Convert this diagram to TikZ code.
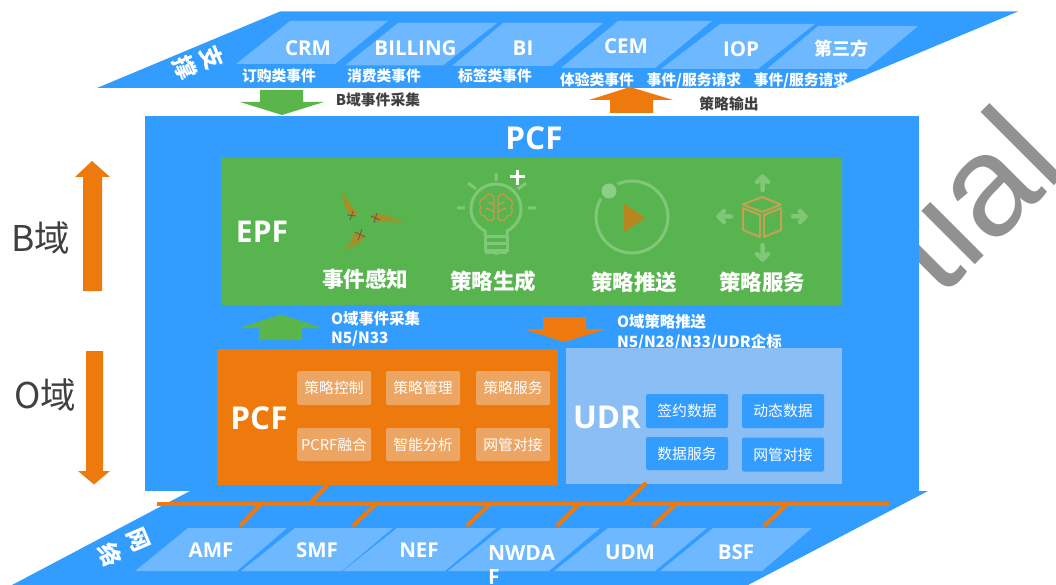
\documentclass[tikz,border=0pt]{standalone}
\usepackage{fontspec}
\setmainfont{Noto Sans CJK SC}
\newfontfamily\latn{Open Sans}
\newfontfamily\wm{Liberation Sans}
\usetikzlibrary{calc}
\definecolor{pblue}{HTML}{339CFF}
\definecolor{lblue}{HTML}{6DB8FF}
\definecolor{pgreen}{HTML}{58B44F}
\definecolor{agreen}{HTML}{5AB54B}
\definecolor{porange}{HTML}{EE790C}
\definecolor{lorange}{HTML}{EDA564}
\definecolor{udrblue}{HTML}{8ABEF4}
\definecolor{dtext}{HTML}{404040}
\definecolor{palegreen}{HTML}{80C878}
\definecolor{iconorange}{HTML}{B8861E}
\definecolor{boxgold}{HTML}{C3A254}
\definecolor{brainc}{HTML}{C49A50}
\tikzset{
  x=1pt,y=-1pt,
  every node/.style={inner sep=0pt,outer sep=0pt},
  para/.style={fill=lblue},
  plane/.style={fill=pblue},
  bigrect/.style={anchor=north west,inner sep=0pt},
  plabel/.style={text=white,font=\latn\fontsize{20.5}{24}\selectfont\bfseries},
  sublabel/.style={text=white,font=\fontsize{14.8}{14.8}\selectfont\bfseries},
  darklabel/.style={text=dtext,font=\fontsize{14.8}{14.8}\selectfont\bfseries},
  whitelabel/.style={text=white,anchor=west,font=\fontsize{15.4}{15.4}\selectfont\bfseries},
  titlelabel/.style={text=white,font=\latn\fontsize{31.5}{31.5}\selectfont\bfseries},
  epflabel/.style={text=white,font=\fontsize{21.5}{21.5}\selectfont\bfseries},
  pcfitem/.style={fill=lorange,rounded corners=1.5pt,text=white,minimum width=74pt,minimum height=34pt,font=\fontsize{14.8}{14.8}\selectfont},
  udritem/.style={fill=pblue,rounded corners=1.5pt,text=white,minimum width=82pt,minimum height=34pt,font=\fontsize{14.8}{14.8}\selectfont},
  domainlabel/.style={text=dtext,font=\fontsize{35.5}{35.5}\selectfont},
  vertglyph/.style={text=white,rotate=-67,font=\fontsize{23}{23}\selectfont\bfseries},
  busline/.style={draw=porange,line width=4pt},
  tap/.style={draw=porange,line width=4pt,line cap=round},
  paleline/.style={draw=palegreen,line width=3pt},
  palearrow/.style={draw=palegreen,line width=4.5pt,line cap=round,line join=round},
  brainline/.style={draw=brainc,line width=1.2pt},
  cubeline/.style={draw=boxgold,line width=2pt,line join=round},
  xmark/.style={draw=black!65,line width=.8pt},
}
\begin{document}
\begin{tikzpicture}
\useasboundingbox (0,0) rectangle (1056,585);
\begin{scope}
\clip (0,0) rectangle (1056,585);
% watermark
\node[rotate=45,anchor=base west,text=black!43,font=\wm\fontsize{143}{143}\selectfont] (wmark) at (940.7,299.3) {tial};

% top plane
\fill[plane] (97,88) -- (280,11.5) -- (1018,11.5) -- (835,88) -- cycle;
\fill[para] (236,64) -- (335,64) -- (388,21) -- (290,21) -- cycle;
\fill[para] (345,65.5) -- (443,65.5) -- (497,23) -- (398,23) -- cycle;
\fill[para] (452,66) -- (552,66) -- (603,23) -- (503,23) -- cycle;
\fill[para] (561,68) -- (655,68) -- (712,21) -- (618,21) -- cycle;
\fill[para] (661,69) -- (758,69) -- (815,24) -- (720,24) -- cycle;
\fill[para] (767,69) -- (867,69) -- (918,26) -- (818,26) -- cycle;
\node[plabel] (crm) at (308,48) {CRM};
\node[plabel] (billing) at (415.5,48) {BILLING};
\node[plabel] (bi) at (523,48) {BI};
\node[plabel] (cem) at (626,46.5) {CEM};
\node[plabel] (iop) at (741,49) {IOP};
\node[plabel,font=\fontsize{18}{18}\selectfont\bfseries] (third) at (841,49) {第三方};
\node[sublabel] (s1) at (279,76) {订购类事件};
\node[sublabel] (s2) at (384,76) {消费类事件};
\node[sublabel] (s3) at (495,76) {标签类事件};
\node[sublabel] (s4) at (597,80) {体验类事件};
\node[sublabel] (s5) at (694,80) {事件/服务请求};
\node[sublabel] (s6) at (801,80) {事件/服务请求};
\node[vertglyph] (zhi) at (212,58) {支};
\node[vertglyph] (cheng) at (185,68) {撑};

% B-domain arrows
\fill[agreen] (260,90) -- (303,90) -- (303,102) -- (324,102) -- (282,115) -- (240,102) -- (260,102) -- cycle;
\node[darklabel] (bcollect) at (378,100) {B域事件采集};
\fill[porange] (610,113) -- (653,113) -- (653,100) -- (673,100) -- (630,87) -- (589,100) -- (610,100) -- cycle;
\node[darklabel] (pout) at (729,104) {策略输出};

% left arrows
\fill[porange] (83,291) -- (102,291) -- (102,177) -- (110,177) -- (92,161) -- (75,177) -- (83,177) -- cycle;
\fill[porange] (86,351) -- (103,351) -- (103,471) -- (110,471) -- (94,484.5) -- (78,471) -- (86,471) -- cycle;
\node[domainlabel] (bdom) at (41,238) {B域};
\node[domainlabel] (odom) at (45.5,395) {O域};

% bottom plane
\fill[plane] (12,585) -- (190,491) -- (928,491) -- (748,585) -- cycle;

% main PCF
\node[bigrect,fill=pblue,minimum width=774pt,minimum height=375pt] (main) at (145,116) {};
\node[titlelabel] (pcftitle) at (534,138) {PCF};

% EPF
\node[bigrect,fill=pgreen,minimum width=621pt,minimum height=147pt] (epf) at (221,158) {};
\node[titlelabel,font=\latn\fontsize{30}{30}\selectfont\bfseries] (epflab) at (262,232) {EPF};
\node[epflabel] (e1) at (365,279) {事件感知};
\node[epflabel] (e2) at (493,281) {策略生成};
\node[epflabel] (e3) at (634,282) {策略推送};
\node[epflabel] (e4) at (762,282) {策略服务};

% icon: event sensing
\shade[bottom color=iconorange,top color=pgreen,middle color=iconorange!80!pgreen] (353,218) .. controls (344,208) and (340,198) .. (343,187) .. controls (345,197) and (350,205) .. (357,212) -- cycle;
\shade[left color=iconorange,right color=pgreen,middle color=iconorange!70!pgreen] (371,215) .. controls (384,213) and (398,216) .. (408,226) .. controls (397,222) and (385,221) .. (374,222) -- cycle;
\shade[top color=iconorange,bottom color=pgreen,middle color=iconorange!80!pgreen] (356,231) .. controls (352,240) and (347,248) .. (339,253) .. controls (350,250) and (359,244) .. (365,236) -- cycle;
\draw[xmark] (347,215) -- (356,216) (353,211) -- (350,220);
\draw[xmark] (371,216) -- (380,220) (377,213) -- (374,223);
\draw[xmark] (355,232) -- (365,237) (362,229) -- (358,240);

% icon: bulb
\draw[paleline] (485,236) -- (485,231) .. controls (477,227) and (471,219) .. (471,209) .. controls (471,195) and (482,184) .. (496,184) .. controls (510,184) and (521,195) .. (521,209) .. controls (521,219) and (515,227) .. (507,231) -- (507,236);
\draw[paleline] (485,236) -- (507,236) (485,243) -- (507,243) (485,250) -- (507,250) (485,236) -- (485,252) (507,236) -- (507,252) (485,252) -- (507,252);
\draw[paleline] (496,252) -- (496,255);
\draw[paleline] (496,173) -- (496,181) (457,208) -- (465,208) (528,208) -- (536,208) (468,183) -- (476,189) (526,183) -- (518,189);
\draw[brainline] (494,197) .. controls (490,192) and (485,194) .. (485,198) .. controls (480,198) and (478,204) .. (481,207) .. controls (478,211) and (481,217) .. (485,216) .. controls (486,221) and (491,222) .. (494,219) -- (494,197);
\draw[brainline] (498,197) .. controls (502,192) and (507,194) .. (507,198) .. controls (512,198) and (514,204) .. (511,207) .. controls (514,211) and (511,217) .. (507,216) .. controls (506,221) and (501,222) .. (498,219) -- (498,197);
\draw[brainline] (494,205) -- (488,202) (494,212) -- (486,208) (498,205) -- (504,202) (498,212) -- (506,208);
\draw[white,line width=3pt] (517,170) -- (517,185) (509.5,177) -- (524.5,177);

% icon: play
\draw[paleline] (632,217) circle[radius=36];
\fill[pgreen] (609,191) circle[radius=11];
\fill[palegreen!90!white] (609,191) circle[radius=7.5];
\fill[iconorange] (624,204) -- (645.5,218) -- (624,232) -- cycle;

% icon: cube
\draw[cubeline] (762,197) -- (781,204.5) -- (762,212) -- (743,204.5) -- cycle;
\draw[cubeline] (743,208) -- (743,230) -- (760,237) -- (760,215) -- cycle;
\draw[cubeline] (781,208) -- (781,230) -- (764,237) -- (764,215) -- cycle;
\draw[palearrow] (762.5,190) -- (762.5,177) (757,182) -- (762.5,176.5) -- (768,182);
\draw[palearrow] (762.5,245) -- (762.5,259) (757,254) -- (762.5,259.5) -- (768,254);
\draw[palearrow] (731,216.5) -- (719,216.5) (724,211) -- (718.5,216.5) -- (724,222);
\draw[palearrow] (793,216.5) -- (805,216.5) (800,211) -- (805.5,216.5) -- (800,222);

% O-domain arrows
\fill[agreen] (259,340) -- (302,340) -- (302,328) -- (323,328) -- (281,314.5) -- (238,328) -- (259,328) -- cycle;
\node[whitelabel] (ocollect) at (331,319) {O域事件采集};
\node[whitelabel] (ocollect2) at (331,339) {N5/N33};
\fill[porange] (543,317) -- (586,317) -- (586,329) -- (607,329) -- (564,342) -- (523,329) -- (543,329) -- cycle;
\node[whitelabel] (opush) at (617,322) {O域策略推送};
\node[whitelabel] (opush2) at (617,342) {N5/N28/N33/UDR企标};

% PCF block
\node[bigrect,fill=porange,minimum width=341pt,minimum height=136pt] (pcf) at (217,349) {};
\node[titlelabel] (pcflab) at (259,418) {PCF};
\node[pcfitem] (p1) at (334,388) {策略控制};
\node[pcfitem] (p2) at (423,388) {策略管理};
\node[pcfitem] (p3) at (513,388) {策略服务};
\node[pcfitem,minimum height=33pt] (p4) at (334,444.5) {PCRF融合};
\node[pcfitem,minimum height=33pt] (p5) at (423,444.5) {智能分析};
\node[pcfitem,minimum height=33pt] (p6) at (513,444.5) {网管对接};

% UDR block
\node[bigrect,fill=udrblue,minimum width=276pt,minimum height=136pt] (udr) at (566,348) {};
\node[titlelabel] (udrlab) at (607,417) {UDR};
\node[udritem] (u1) at (687,411) {签约数据};
\node[udritem] (u2) at (783,411) {动态数据};
\node[udritem,minimum height=33pt] (u3) at (687,453.5) {数据服务};
\node[udritem] (u4) at (783,454.5) {网管对接};

% bottom modules
\fill[para] (135,571) -- (237,571) -- (287,528) -- (188,528) -- cycle;
\fill[para] (241,571) -- (342,571) -- (393,528) -- (295,528) -- cycle;
\fill[para] (343,571) -- (445,571) -- (496,528) -- (397,528) -- cycle;
\fill[para] (448,571) -- (549,571) -- (600,528) -- (502,528) -- cycle;
\fill[para] (554,571) -- (655,571) -- (707,528) -- (608,528) -- cycle;
\fill[para] (660,571) -- (762,571) -- (812,528) -- (713,528) -- cycle;
\node[plabel] (amf) at (211,550) {AMF};
\node[plabel] (smf) at (317,550) {SMF};
\node[plabel] (nef) at (419,550) {NEF};
\node[plabel,anchor=north west,align=left,font=\latn\fontsize{21}{24}\selectfont\bfseries] (nwdaf) at (488,545) {NWDA\\F};
\node[plabel] (udm) at (630,552) {UDM};
\node[plabel] (bsf) at (736,552) {BSF};
\node[vertglyph] (wang) at (138,540) {网};
\node[vertglyph] (luo) at (110,555) {络};

% bus
\coordinate (busL) at (157,503.7);
\coordinate (busR) at (889,503.7);
\draw[busline] (busL) -- (busR);
\coordinate (t1a) at (328,485); \coordinate (t1b) at (310,503);
\coordinate (t2a) at (645,484); \coordinate (t2b) at (625,503);
\coordinate (b1a) at (260,505); \coordinate (b1b) at (241,525);
\coordinate (b2a) at (375,505); \coordinate (b2b) at (354,525);
\coordinate (b3a) at (489,505); \coordinate (b3b) at (468,525);
\coordinate (b4a) at (578,505); \coordinate (b4b) at (558,525);
\coordinate (b5a) at (675,505); \coordinate (b5b) at (654,525);
\coordinate (b6a) at (786,505); \coordinate (b6b) at (765,525);
\foreach \n in {b1,b2,b3,b4,b5,b6,t2}{\draw[tap] (\n a) -- (\n b);}
\draw[busline] (t1a) -- (t1b);
\end{scope}
\end{tikzpicture}
\end{document}
